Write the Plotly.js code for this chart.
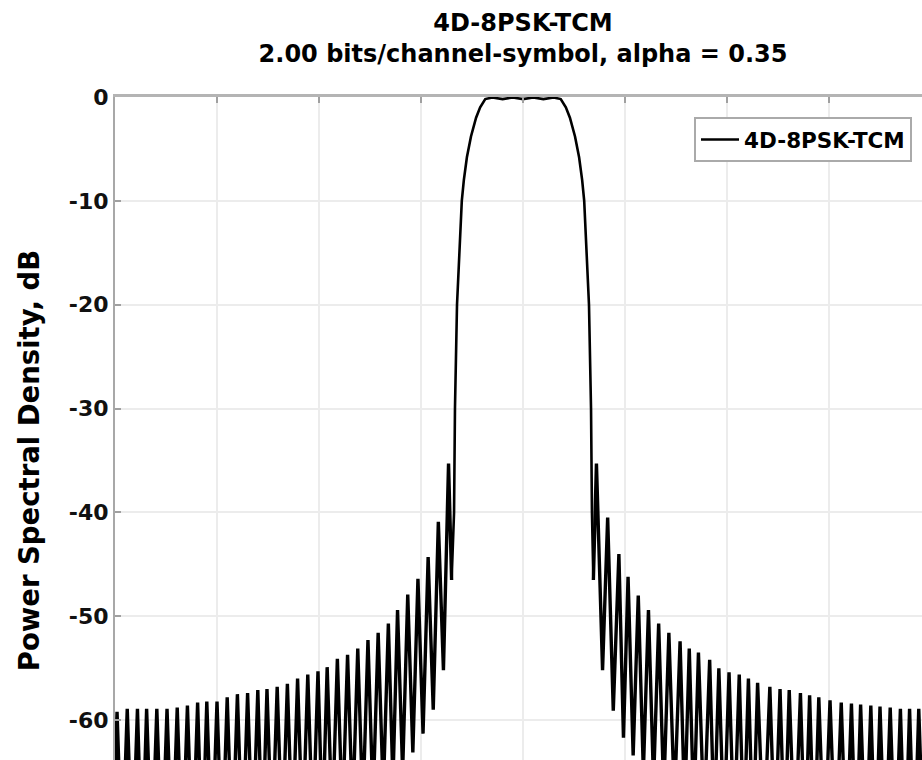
<!DOCTYPE html>
<html>
<head>
<meta charset="utf-8">
<script src="https://cdn.plot.ly/plotly-3.0.1.min.js"></script>
<style>
  html, body { margin: 0; padding: 0; background: #ffffff; overflow: hidden; }
  #wrap { width: 922px; height: 760px; overflow: hidden; position: relative; }
  #plot { width: 940px; height: 830px; }
</style>
</head>
<body>
<div id="wrap"><div id="plot"></div></div>
<script>
// ---- Data (frequency in symbol-rate units, PSD in dB) ----
const seriesName = '4D-8PSK-TCM';

// main lobe (left null -> flat top -> right null)
const mainFreq = [-0.70, -0.676, -0.667, -0.647, -0.60, -0.58, -0.55, -0.51, -0.46, -0.42, -0.37,
                  -0.30, -0.20, -0.10, 0.00, 0.10, 0.20, 0.30,
                  0.37, 0.42, 0.46, 0.51, 0.55, 0.58, 0.60, 0.647, 0.667, 0.676, 0.69];
const mainDb   = [-46.5, -40, -30, -20, -10, -8.0, -5.8, -3.8, -2.0, -1.0, -0.2,
                  -0.05, -0.2, -0.05, -0.2, -0.05, -0.2, -0.05,
                  -0.2, -1.0, -2.0, -3.8, -5.8, -8.0, -10, -20, -30, -40, -46.5];

// left side-lobes (outermost first): null before each peak, then the peak
const nullFreqLeft = [-4.03, -3.93, -3.83, -3.735, -3.64, -3.54, -3.44, -3.34, -3.24, -3.145,
                      -3.05, -2.95, -2.85, -2.75, -2.65, -2.555, -2.46, -2.36, -2.26, -2.16,
                      -2.06, -1.965, -1.87, -1.77, -1.67, -1.57, -1.47, -1.37, -1.275, -1.18,
                      -1.08, -0.98, -0.88, -0.78];
const nullDbLeft   = [-73.8, -73.8, -73.7, -73.7, -73.6, -73.6, -73.5, -73.4, -73.3, -73.2,
                      -73.1, -73.0, -72.8, -72.6, -72.4, -72.2, -72.0, -71.8, -71.5, -71.2,
                      -71.0, -70.5, -70.0, -69.5, -69.0, -68.5, -67.8, -67.0, -66.0, -65.0,
                      -63.1, -61.3, -59.0, -55.2];
const peakFreqLeft = [-3.98, -3.88, -3.78, -3.69, -3.59, -3.49, -3.39, -3.29, -3.19, -3.10,
                      -3.00, -2.90, -2.80, -2.70, -2.60, -2.51, -2.41, -2.31, -2.21, -2.11,
                      -2.01, -1.92, -1.82, -1.72, -1.62, -1.52, -1.42, -1.32, -1.23, -1.13,
                      -1.03, -0.93, -0.83, -0.73];
const peakDbLeft   = [-59.2, -58.9, -58.9, -58.9, -58.9, -58.9, -58.8, -58.6, -58.3, -58.2,
                      -58.2, -57.8, -57.5, -57.4, -57.1, -57.0, -56.8, -56.5, -56.0, -55.6,
                      -55.3, -54.9, -54.1, -53.7, -53.1, -52.3, -51.6, -50.7, -49.4, -47.9,
                      -46.4, -44.3, -40.9, -35.3];

// right side-lobes (innermost first): the peak, then the null after it
const peakFreqRight = [0.72, 0.83, 0.94, 1.03, 1.13, 1.23, 1.33, 1.43, 1.54, 1.63,
                       1.72, 1.83, 1.92, 2.02, 2.12, 2.21, 2.30, 2.42, 2.52, 2.61,
                       2.72, 2.81, 2.90, 3.01, 3.12, 3.22, 3.31, 3.41, 3.50, 3.60,
                       3.70, 3.79, 3.88, 3.98];
const peakDbRight   = [-35.3, -40.5, -44.0, -46.2, -48.0, -49.4, -50.7, -51.6, -52.4, -53.1,
                       -53.5, -54.2, -55.0, -55.4, -55.6, -56.0, -56.4, -56.8, -57.0, -57.1,
                       -57.4, -57.6, -57.8, -58.1, -58.3, -58.4, -58.5, -58.6, -58.7, -58.8,
                       -58.9, -58.9, -58.9, -59.0];
const nullFreqRight = [0.78, 0.885, 0.985, 1.08, 1.18, 1.28, 1.38, 1.485, 1.585, 1.675,
                       1.775, 1.875, 1.97, 2.07, 2.165, 2.255, 2.36, 2.47, 2.565, 2.665,
                       2.765, 2.855, 2.955, 3.065, 3.17, 3.265, 3.36, 3.455, 3.55, 3.65,
                       3.745, 3.835, 3.93, 4.03];
const nullDbRight   = [-55.2, -59.1, -61.7, -63.4, -65.0, -66.0, -67.0, -67.8, -68.5, -69.0,
                       -69.5, -70.0, -70.5, -71.0, -71.2, -71.5, -71.8, -72.0, -72.2, -72.4,
                       -72.6, -72.8, -73.0, -73.1, -73.2, -73.3, -73.4, -73.5, -73.6, -73.6,
                       -73.7, -73.7, -73.8, -73.8];

// axis ticks
const yTickVals = [0, -10, -20, -30, -40, -50, -60, -70];
const yTickText = ['0', '-10', '-20', '-30', '-40', '-50', '-60', '-70'];
const xTickVals = [-4, -3, -2, -1, 0, 1, 2, 3, 4];

const titleText = '4D-8PSK-TCM<br>2.00 bits/channel-symbol, alpha = 0.35';
const yTitleText = 'Power Spectral Density, dB';

// ---- assemble the curve segments in frequency order ----
const leftF = [], leftY = [];
for (let i = 0; i < peakFreqLeft.length; i++) {
  leftF.push(nullFreqLeft[i]); leftY.push(nullDbLeft[i]);
  leftF.push(peakFreqLeft[i]); leftY.push(peakDbLeft[i]);
}
leftF.push(mainFreq[0]); leftY.push(mainDb[0]);
const rightF = [mainFreq[mainFreq.length - 1]], rightY = [mainDb[mainDb.length - 1]];
for (let i = 0; i < peakFreqRight.length; i++) {
  rightF.push(peakFreqRight[i]); rightY.push(peakDbRight[i]);
  rightF.push(nullFreqRight[i]); rightY.push(nullDbRight[i]);
}

const FONT = 'DejaVu Sans, Liberation Sans, Arial, sans-serif';

const traces = [
  { x: mainFreq, y: mainDb, type: 'scatter', mode: 'lines', name: seriesName,
    legendgroup: 'psd', showlegend: true,
    line: { color: '#000000', width: 2.6, simplify: false } },
  { x: leftF, y: leftY, type: 'scatter', mode: 'lines', name: seriesName,
    legendgroup: 'psd', showlegend: false,
    line: { color: '#000000', width: 3.4, simplify: false } },
  { x: rightF, y: rightY, type: 'scatter', mode: 'lines', name: seriesName,
    legendgroup: 'psd', showlegend: false,
    line: { color: '#000000', width: 3.4, simplify: false } }
];

const layout = {
  width: 940, height: 830,
  margin: { l: 115, r: 9, t: 97, b: 6, pad: 0 },
  paper_bgcolor: '#ffffff', plot_bgcolor: '#ffffff',
  font: { family: FONT, color: '#000000', weight: 'bold' },
  title: {
    text: titleText,
    font: { family: FONT, size: 24, color: '#000000', weight: 'bold' },
    x: 523 / 940, xref: 'container', xanchor: 'center',
    y: 1 - 31 / 830, yref: 'container', yanchor: 'top'
  },
  xaxis: {
    range: [-4, 4], side: 'top', tickvals: xTickVals, showticklabels: false,
    ticks: 'inside', ticklen: 6, tickwidth: 2, tickcolor: '#a0a0a0',
    showline: true, linecolor: '#b4b4b4', linewidth: 3, mirror: false,
    showgrid: true, gridcolor: '#ececec', gridwidth: 2, zeroline: false, fixedrange: true
  },
  yaxis: {
    range: [-70, 0], tickvals: yTickVals, ticktext: yTickText,
    tickfont: { family: FONT, size: 22, color: '#111111', weight: 'bold' },
    ticks: 'inside', ticklen: 6, tickwidth: 2, tickcolor: '#a0a0a0',
    showline: true, linecolor: '#a8a8a8', linewidth: 2, mirror: false,
    showgrid: true, gridcolor: '#ececec', gridwidth: 2, zeroline: false, fixedrange: true,
    title: { text: yTitleText, font: { family: FONT, size: 27.5, color: '#000000', weight: 'bold' }, standoff: 21 },
    automargin: false
  },
  showlegend: true,
  legend: {
    x: (912 - 115) / 816, xanchor: 'right', y: (824 - 117) / 727, yanchor: 'top',
    bgcolor: '#ffffff', bordercolor: '#aaaaaa', borderwidth: 2, itemwidth: 38,
    tracegroupgap: 0,
    font: { family: FONT, size: 21.5, color: '#000000', weight: 'bold' }
  }
};

Plotly.newPlot('plot', traces, layout, { displayModeBar: false, staticPlot: true });
</script>
</body>
</html>
